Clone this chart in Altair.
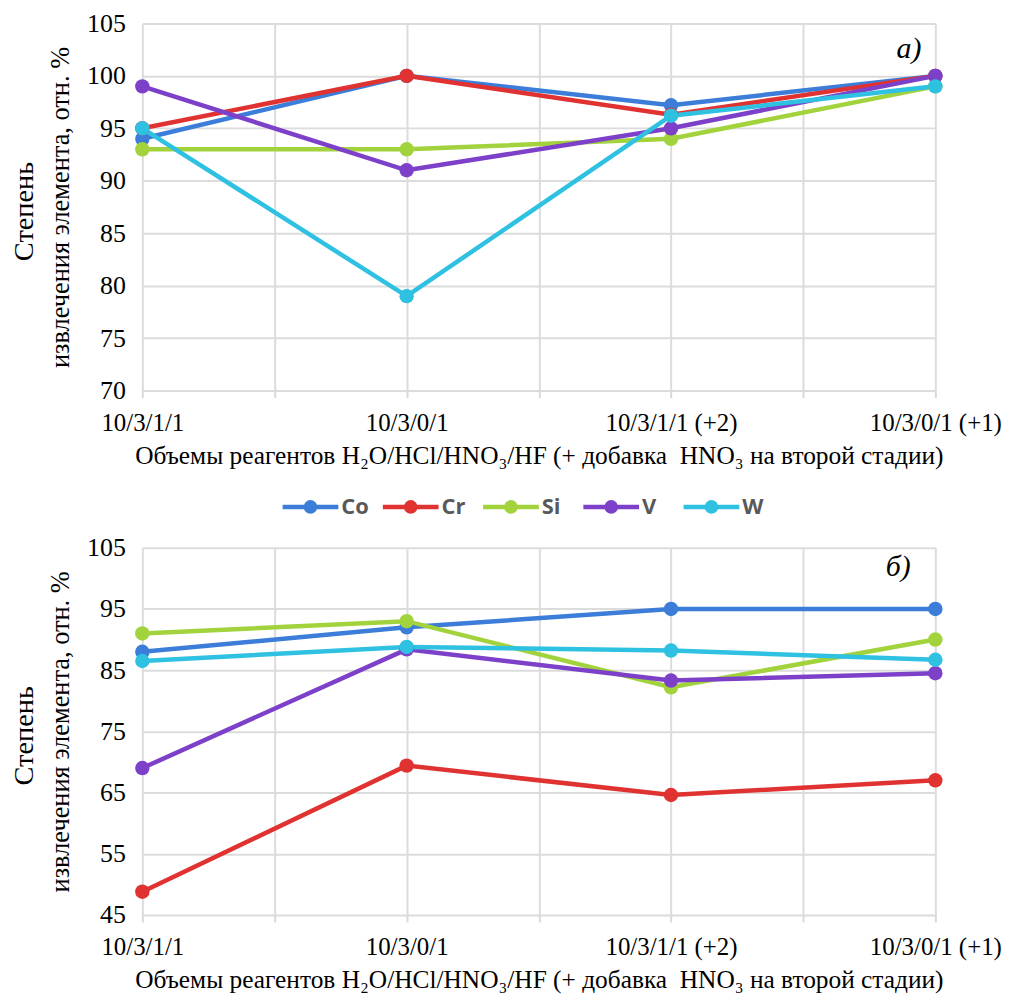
import json
import altair as alt
import pandas as pd

categories = ["10/3/1/1", "10/3/0/1", "10/3/1/1 (+2)", "10/3/0/1 (+1)"]
series = ["Co", "Cr", "Si", "V", "W"]
colors = ["#3b7dd8", "#e03331", "#a2d33c", "#7d40c9", "#2ec1e1"]

# panel a)
co_a = [94, 100, 97.2, 100]
cr_a = [95, 100, 96.3, 100]
si_a = [93, 93, 94, 99]
v_a = [99, 91, 95, 100]
w_a = [95, 79, 96.2, 99]

# panel b)
co_b = [88, 92, 95, 95]
cr_b = [48.8, 69.4, 64.6, 67]
si_b = [91, 93, 82.2, 90]
v_b = [69, 88.4, 83.3, 84.5]
w_b = [86.5, 88.8, 88.2, 86.7]

y_title_1 = "Степень"
y_title_2 = "извлечения элемента, отн. %"
x_title = "Объемы реагентов H₂O/HCl/HNO₃/HF (+ добавка\u00a0 HNO₃ на второй стадии)"

SERIF = "Liberation Serif"


def make_df(lists):
    rows = []
    for name, vals in zip(series, lists):
        for i, v in enumerate(vals):
            rows.append({"series": name, "idx": i, "cat": categories[i], "value": v})
    return pd.DataFrame(rows)


df_a = make_df([co_a, cr_a, si_a, v_a, w_a])
df_b = make_df([co_b, cr_b, si_b, v_b, w_b])

label_expr = json.dumps(categories) + "[datum.value] || ''"
color_scale = alt.Scale(domain=series, range=colors)


def panel(df, ydomain, yvalues, letter, lx, ly):
    x = alt.X(
        "idx:Q",
        scale=alt.Scale(domain=[0, 3], nice=False, zero=False),
        axis=alt.Axis(
            values=[0, 0.5, 1, 1.5, 2, 2.5, 3],
            labelExpr=label_expr,
            title=x_title,
            grid=True,
            ticks=True,
            tickSize=7,
            tickColor="#d9d9d9",
            tickWidth=2,
            domain=False,
            labelPadding=13,
            labelFont=SERIF,
            labelFontSize=25,
            labelColor="#000000",
            labelOverlap=False,
            labelFlush=False,
            titleFont=SERIF,
            titleFontSize=25.5,
            titleFontWeight="normal",
            titleColor="#000000",
            titlePadding=8,
        ),
    )
    y = alt.Y(
        "value:Q",
        scale=alt.Scale(domain=ydomain, nice=False, zero=False),
        axis=alt.Axis(
            values=yvalues,
            title=y_title_2,
            ticks=False,
            domain=False,
            labelPadding=17,
            labelFont=SERIF,
            labelFontSize=26,
            labelColor="#000000",
            titleFont=SERIF,
            titleFontSize=26.5,
            titleFontWeight="normal",
            titleColor="#000000",
            titlePadding=12,
        ),
    )
    color = alt.Color("series:N", scale=color_scale, legend=None)
    base = alt.Chart(df)
    lines = base.mark_line(strokeWidth=4.5).encode(x=x, y=y, color=color, order="idx:Q")
    points = base.mark_circle(size=210, opacity=1).encode(x=x, y=y, color=color)
    text = alt.Chart(pd.DataFrame({"t": [letter]})).mark_text(
        font=SERIF, fontSize=30, fontStyle="italic", color="#000000"
    ).encode(x=alt.datum(lx), y=alt.datum(ly), text="t:N")
    title1 = alt.Chart(pd.DataFrame({"t": [y_title_1]})).mark_text(
        font=SERIF, fontSize=28.5, angle=270, align="center", baseline="middle", color="#000000"
    ).encode(x=alt.value(-119), y=alt.value(189), text="t:N")
    return alt.layer(lines, points, text, title1).properties(width=797, height=369)


top = panel(df_a, [70, 105], [70, 75, 80, 85, 90, 95, 100, 105], "а)", 2.9, 102.6)
bottom = panel(df_b, [45, 105], [45, 55, 65, 75, 85, 95, 105], "б)", 2.86, 101.8)

legend_df = pd.DataFrame({"series": series})
lxs = alt.X(
    "series:N",
    scale=alt.Scale(domain=series, type="point", range=[169, 572], padding=0),
    axis=None,
)
lcolor = alt.Color("series:N", scale=color_scale, legend=None)
leg_base = alt.Chart(legend_df)
LEG_Y = 38
leg_rule = leg_base.mark_rule(strokeWidth=4.5, xOffset=-28, x2Offset=28).encode(
    x=lxs, x2="series:N", y=alt.value(LEG_Y), color=lcolor
)
leg_dot = leg_base.mark_circle(size=190, opacity=1).encode(x=lxs, y=alt.value(LEG_Y), color=lcolor)
leg_text = leg_base.mark_text(
    align="left", baseline="middle", dx=31, font="Open Sans", fontWeight="bold",
    fontSize=22, color="#595959"
).encode(x=lxs, y=alt.value(LEG_Y), text="series:N")
legend = alt.layer(leg_rule, leg_dot, leg_text).properties(width=797, height=66)

chart = alt.vconcat(top, legend, bottom, spacing=0).resolve_scale(color="shared").configure_view(
    stroke=None
).configure_axis(gridColor="#dcdcdc", gridWidth=2).properties(
    padding={"top": 0, "left": 2, "right": 0, "bottom": 0}, background="#ffffff"
)

chart.save("out.html", embed_options={"renderer": "svg", "actions": False})
